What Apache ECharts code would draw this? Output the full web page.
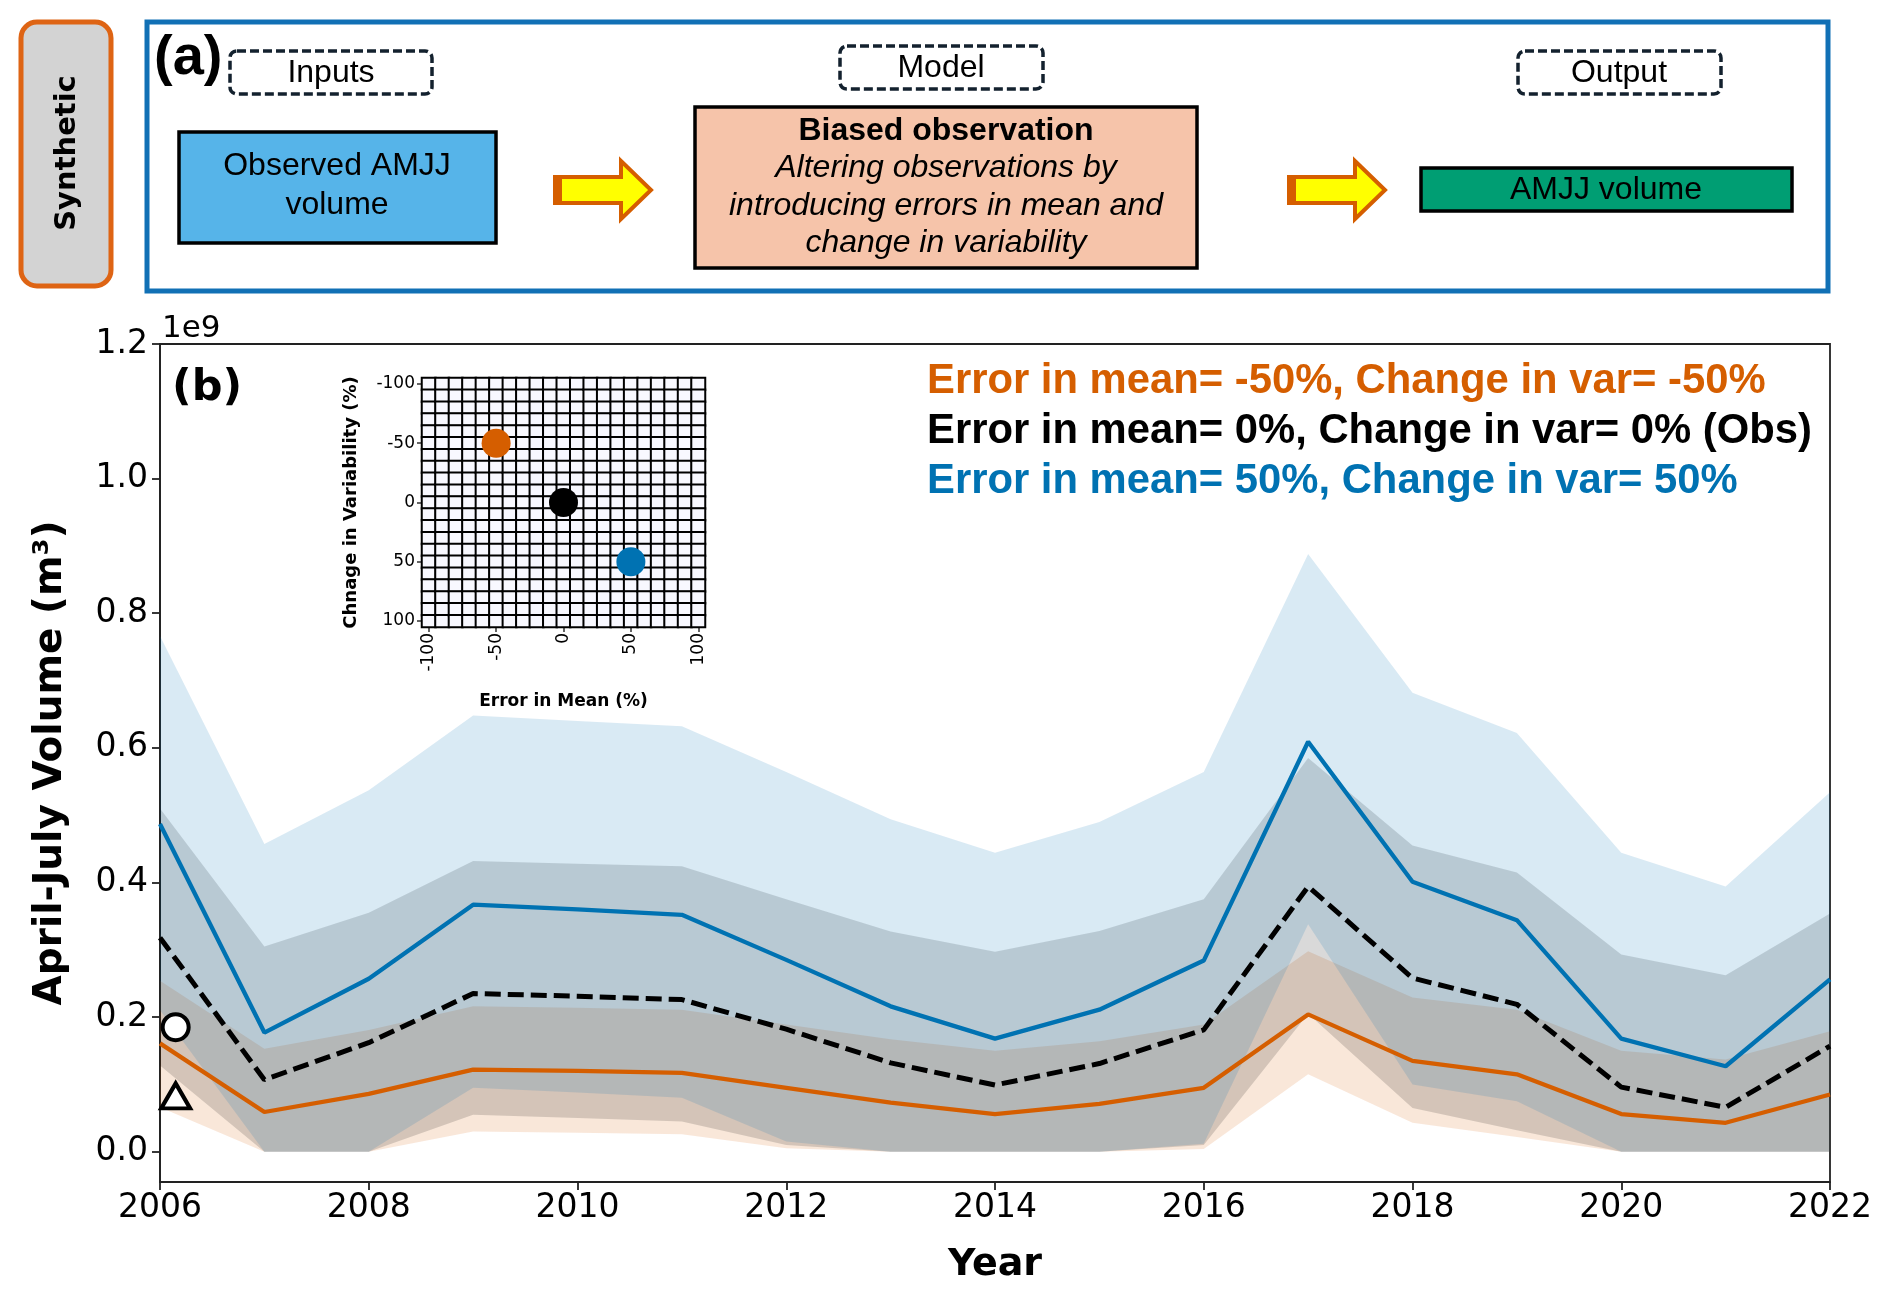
<!DOCTYPE html>
<html><head><meta charset="utf-8">
<script src="https://cdn.jsdelivr.net/npm/echarts@6/dist/echarts.min.js"></script>
<style>html,body{margin:0;padding:0;background:#fff}#c{width:1892px;height:1295px}</style>
</head><body><div id="c"></div>
<script>
// ---- data (volumes in units of 1e9 m^3) ----
const years = [2006,2007,2008,2009,2010,2011,2012,2013,2014,2015,2016,2017,2018,2019,2020,2021,2022];
const meanMinus50 = [0.161,0.059,0.086,0.122,0.120,0.117,0.095,0.073,0.056,0.071,0.095,0.204,0.135,0.115,0.056,0.043,0.085];
const observed    = [0.318,0.107,0.162,0.235,0.231,0.226,0.182,0.132,0.099,0.131,0.181,0.394,0.258,0.219,0.096,0.066,0.157];
const meanPlus50  = [0.487,0.177,0.257,0.367,0.360,0.352,0.285,0.216,0.168,0.211,0.284,0.609,0.401,0.344,0.168,0.127,0.256];
const orangeUpper = [0.254,0.153,0.181,0.216,0.214,0.211,0.189,0.167,0.150,0.164,0.189,0.298,0.229,0.211,0.150,0.137,0.179];
const orangeLower = [0.066,0,0,0.030,0.028,0.026,0.005,0,0,0,0.004,0.115,0.043,0.022,0,0,0];
const obsUpper    = [0.510,0.305,0.355,0.432,0.428,0.424,0.375,0.327,0.297,0.328,0.375,0.585,0.455,0.415,0.293,0.262,0.354];
const obsLower    = [0.128,0,0,0.055,0.050,0.045,0.010,0,0,0,0.010,0.205,0.065,0.032,0,0,0];
const blueUpper   = [0.766,0.457,0.537,0.648,0.640,0.632,0.564,0.494,0.444,0.490,0.564,0.888,0.682,0.622,0.444,0.394,0.534];
const blueLower   = [0.210,0,0,0.095,0.088,0.080,0.015,0,0,0,0.012,0.338,0.100,0.075,0,0,0];
const circleMarker   = [[2006.15, 0.185]];
const triangleMarker = [[2006.15, 0.083]];
const yTicks = [0,0.2,0.4,0.6,0.8,1.0,1.2];
// inset
const insetCats = ['-100','-90','-80','-70','-60','-50','-40','-30','-20','-10','0','10','20','30','40','50','60','70','80','90','100'];
const insetPoints = [['-50','-50','#d55e00'],['0','0','#000000'],['50','50','#0072b2']];
const legendLines = [
  ['Error in mean= -50%, Change in var= -50%','#d55e00'],
  ['Error in mean= 0%, Change in var= 0% (Obs)','#000000'],
  ['Error in mean= 50%, Change in var= 50%','#0072b2']
];

const aFont = "'Liberation Sans'";
const aSize = 32;
const dejavu = "'DejaVu Sans'";

const pairs = arr => years.map((y,i)=>[y,arr[i]]);
function band(lower, upper, color){
  return {type:'custom', coordinateSystem:'cartesian2d', xAxisIndex:0, yAxisIndex:0, silent:true, z:1,
    data:[[years[0], lower[0]]],
    renderItem:(params, api)=>{
      const top = years.map((y,i)=>api.coord([y, upper[i]]));
      const bot = years.map((y,i)=>api.coord([y, lower[i]])).reverse();
      return {type:'polygon', shape:{points:top.concat(bot)}, style:{fill:color, stroke:null}};
    }};
}

const heatData=[];
for(let i=0;i<insetCats.length;i++) for(let j=0;j<insetCats.length;j++) heatData.push([i,j,0]);

const series = [
  band(orangeLower, orangeUpper, 'rgba(213,94,0,0.15)'),
  band(obsLower, obsUpper, 'rgba(0,0,0,0.15)'),
  band(blueLower, blueUpper, 'rgba(0,114,178,0.15)'),
  {type:'line', data:pairs(meanMinus50), symbol:'none', lineStyle:{color:'#d55e00',width:4.3}, z:3},
  {type:'line', data:pairs(meanPlus50), symbol:'none', lineStyle:{color:'#0072b2',width:4.3}, z:3},
  {type:'line', data:pairs(observed), symbol:'none', lineStyle:{color:'#000',width:5,type:[16,7]}, z:4},
  {type:'scatter', data:circleMarker, symbol:'circle', symbolSize:26, itemStyle:{color:'#fff',borderColor:'#000',borderWidth:4,opacity:1}, z:6},
  {type:'scatter', data:triangleMarker, symbol:'triangle', symbolSize:[29,25], itemStyle:{color:'#fff',borderColor:'#000',borderWidth:4,opacity:1}, z:6},
  {type:'heatmap', id:'heat', xAxisIndex:1, yAxisIndex:1, data:heatData,
   itemStyle:{borderColor:'#000',borderWidth:2}, silent:true, z:2},
  {type:'scatter', xAxisIndex:1, yAxisIndex:1, symbolSize:29,
   data:insetPoints.map(p=>({value:[p[0],p[1]], itemStyle:{color:p[2],opacity:1}})), z:5}
];
const heatIndex = series.findIndex(s=>s.id==='heat');

const graphic = [
  // Synthetic tag
  {type:'rect', shape:{x:21,y:22,width:90,height:264,r:16}, style:{fill:'#d3d3d3',stroke:'#de6414',lineWidth:5}},
  {type:'text', x:67, y:153, rotation:Math.PI/2, style:{text:'Synthetic', fontFamily:dejavu, fontWeight:'bold', fontSize:29, fill:'#000', textAlign:'center', textVerticalAlign:'middle'}},
  // blue frame
  {type:'rect', shape:{x:147,y:22,width:1681,height:269}, style:{fill:'none',stroke:'#1170b5',lineWidth:5}},
  {type:'text', x:154, y:59, style:{text:'(a)', fontFamily:"'Liberation Sans'", fontWeight:'bold', fontSize:56, fill:'#000', textAlign:'left', textVerticalAlign:'middle'}},
  // dashed labels
  {type:'rect', shape:{x:230,y:51,width:202,height:43,r:7}, style:{fill:'none',stroke:'#13212e',lineWidth:3.5,lineDash:[9,4]}},
  {type:'text', x:331, y:73, style:{text:'Inputs', fontFamily:aFont, fontSize:aSize, fill:'#000', textAlign:'center', textVerticalAlign:'middle'}},
  {type:'rect', shape:{x:840,y:46,width:203,height:43,r:7}, style:{fill:'none',stroke:'#13212e',lineWidth:3.5,lineDash:[9,4]}},
  {type:'text', x:941, y:68, style:{text:'Model', fontFamily:aFont, fontSize:aSize, fill:'#000', textAlign:'center', textVerticalAlign:'middle'}},
  {type:'rect', shape:{x:1518,y:51,width:203,height:43,r:7}, style:{fill:'none',stroke:'#13212e',lineWidth:3.5,lineDash:[9,4]}},
  {type:'text', x:1619, y:73, style:{text:'Output', fontFamily:aFont, fontSize:aSize, fill:'#000', textAlign:'center', textVerticalAlign:'middle'}},
  // input box
  {type:'rect', shape:{x:179,y:132,width:317,height:111}, style:{fill:'#56b4e9',stroke:'#000',lineWidth:3.5}},
  {type:'text', x:337, y:166, style:{text:'Observed AMJJ', fontFamily:aFont, fontSize:aSize, fill:'#000', textAlign:'center', textVerticalAlign:'middle'}},
  {type:'text', x:337, y:205, style:{text:'volume', fontFamily:aFont, fontSize:aSize, fill:'#000', textAlign:'center', textVerticalAlign:'middle'}},
  // model box
  {type:'rect', shape:{x:695,y:107,width:502,height:161}, style:{fill:'#f6c4aa',stroke:'#000',lineWidth:3.5}},
  {type:'text', x:946, y:131, style:{text:'Biased observation', fontFamily:aFont, fontWeight:'bold', fontSize:aSize, fill:'#000', textAlign:'center', textVerticalAlign:'middle'}},
  {type:'text', x:946, y:168, style:{text:'Altering observations by', fontFamily:aFont, fontStyle:'italic', fontSize:aSize, fill:'#000', textAlign:'center', textVerticalAlign:'middle'}},
  {type:'text', x:946, y:206, style:{text:'introducing errors in mean and', fontFamily:aFont, fontStyle:'italic', fontSize:aSize, fill:'#000', textAlign:'center', textVerticalAlign:'middle'}},
  {type:'text', x:946, y:243, style:{text:'change in variability', fontFamily:aFont, fontStyle:'italic', fontSize:aSize, fill:'#000', textAlign:'center', textVerticalAlign:'middle'}},
  // output box
  {type:'rect', shape:{x:1421,y:168,width:371,height:43}, style:{fill:'#009e73',stroke:'#000',lineWidth:3.5}},
  {type:'text', x:1606, y:190, style:{text:'AMJJ volume', fontFamily:aFont, fontSize:aSize, fill:'#000', textAlign:'center', textVerticalAlign:'middle'}},
  // arrows
  {type:'polygon', shape:{points:[[555,177],[621,177],[621,161],[651,190],[621,219],[621,203],[555,203]]}, style:{fill:'#ffff00',stroke:'#d55e00',lineWidth:4}},
  {type:'rect', shape:{x:553,y:175,width:9,height:30}, style:{fill:'#d55e00'}},
  {type:'polygon', shape:{points:[[1289,177],[1355,177],[1355,161],[1385,190],[1355,219],[1355,203],[1289,203]]}, style:{fill:'#ffff00',stroke:'#d55e00',lineWidth:4}},
  {type:'rect', shape:{x:1287,y:175,width:9,height:30}, style:{fill:'#d55e00'}},
  // panel (b) annotations
  {type:'text', x:162, y:329, style:{text:'1e9', fontFamily:dejavu, fontSize:31, fill:'#000', textAlign:'left', textVerticalAlign:'middle'}},
  {type:'text', x:172, y:389, style:{text:'(b)', fontFamily:dejavu, fontWeight:'bold', fontSize:43, fill:'#000', textAlign:'left', textVerticalAlign:'middle'}},
  ...legendLines.map((l,i)=>({type:'text', x:927, y:381+i*50, style:{text:l[0], fontFamily:"'Liberation Sans'", fontWeight:'bold', fontSize:41.8, fill:l[1], textAlign:'left', textVerticalAlign:'middle'}}))
];

const chart = echarts.init(document.getElementById('c'), null, {renderer:'canvas'});
chart.setOption({
  animation:false,
  backgroundColor:'#fff',
  grid:[
    {left:160, top:344, width:1670, height:838, show:true, borderColor:'#222', borderWidth:1.8, backgroundColor:'transparent', containLabel:false},
    {left:422, top:378, width:283, height:249, show:true, borderColor:'#666', borderWidth:1.5, backgroundColor:'transparent', containLabel:false}
  ],
  xAxis:[
    {type:'value', gridIndex:0, min:2006, max:2022, interval:2,
     axisLine:{show:true,onZero:false,lineStyle:{color:'#222',width:1.8}},
     axisTick:{show:true,length:8,lineStyle:{color:'#222',width:1.8}},
     axisLabel:{fontFamily:dejavu,fontSize:33,color:'#000',margin:10,formatter:v=>String(v)},
     splitLine:{show:false},
     name:'Year', nameLocation:'middle', nameGap:64,
     nameTextStyle:{fontFamily:dejavu,fontWeight:'bold',fontSize:38,color:'#000'}},
    {type:'category', gridIndex:1, data:insetCats,
     axisLine:{show:true,lineStyle:{color:'#666',width:1.5}},
     axisTick:{show:true,alignWithLabel:true,interval:(i)=>i%5===0,length:5,lineStyle:{color:'#333',width:1.5}},
     axisLabel:{interval:(i)=>i%5===0,rotate:90,fontFamily:dejavu,fontSize:17,color:'#000',margin:6},
     splitLine:{show:false},
     name:'Error in Mean (%)', nameLocation:'middle', nameGap:66,
     nameTextStyle:{fontFamily:dejavu,fontWeight:'bold',fontSize:17,color:'#000'}},
  ],
  yAxis:[
    {type:'value', gridIndex:0, min:-0.045, max:1.2,
     axisLine:{show:true,onZero:false,lineStyle:{color:'#222',width:1.8}},
     axisTick:{show:true,length:8,customValues:yTicks,lineStyle:{color:'#222',width:1.8}},
     axisLabel:{customValues:yTicks,fontFamily:dejavu,fontSize:33,color:'#000',margin:12,formatter:v=>v.toFixed(1)},
     splitLine:{show:false},
     name:'April-July Volume (m³)', nameLocation:'middle', nameGap:90,
     nameTextStyle:{fontFamily:dejavu,fontWeight:'bold',fontSize:39,color:'#000'}},
    {type:'category', gridIndex:1, data:insetCats, inverse:true,
     axisLine:{show:true,lineStyle:{color:'#666',width:1.5}},
     axisTick:{show:true,alignWithLabel:true,interval:(i)=>i%5===0,length:5,lineStyle:{color:'#333',width:1.5}},
     axisLabel:{interval:(i)=>i%5===0,fontFamily:dejavu,fontSize:17,color:'#000',margin:7},
     splitLine:{show:false},
     name:'Chnage in Variability (%)', nameLocation:'middle', nameGap:62,
     nameTextStyle:{fontFamily:dejavu,fontWeight:'bold',fontSize:18,color:'#000'}}
  ],
  visualMap:[{show:false, seriesIndex:heatIndex, min:0, max:1, dimension:2, inRange:{color:['#f8f8ff','#f8f8ff']}}],
  series:series,
  graphic:graphic
});
</script></body></html>
